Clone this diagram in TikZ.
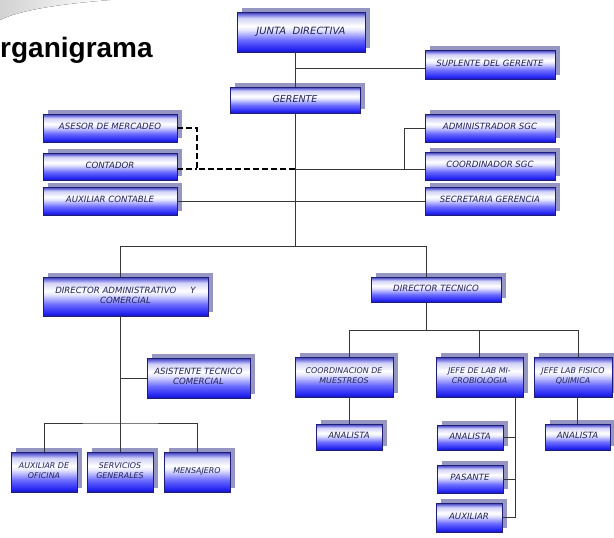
\documentclass[tikz,border=0pt]{standalone}
\usepackage{fontspec}
\setmainfont{DejaVu Sans}
\newfontfamily\titlefont{Liberation Sans}
\usetikzlibrary{shadows}
\definecolor{txt}{RGB}{35,35,85}
\definecolor{edgec}{RGB}{30,30,120}
\definecolor{shd}{RGB}{150,150,195}
\definecolor{lnc}{RGB}{55,55,55}
\pgfdeclareverticalshading{boxsh}{100bp}{rgb(0bp)=(0.10,0.10,0.65); rgb(25bp)=(0.10,0.10,0.65); rgb(28bp)=(0.13,0.13,0.95); rgb(40bp)=(0.42,0.42,1); rgb(52.5bp)=(0.9,0.9,1); rgb(57.5bp)=(1,1,1); rgb(67.5bp)=(0.82,0.82,0.97); rgb(72bp)=(0.45,0.45,0.88); rgb(75bp)=(0.2,0.2,0.65); rgb(100bp)=(0.2,0.2,0.65)}
\newcommand\bx[7][]{\node[box,minimum width={#4pt-#3pt},minimum height={#6pt-#5pt},#1] (#2) at ({(#3+#4)/2},{(#5+#6)/2}) {#7};}
\begin{document}
\begin{tikzpicture}[x=1pt,y=-1pt,
  box/.style={draw=edgec, line width=0.5pt, shading=boxsh,
    drop shadow={shadow xshift=5pt, shadow yshift=4pt, fill=shd, opacity=1},
    font=\fontsize{8.6}{10}\selectfont\itshape, text=txt, align=center,
    inner sep=1pt, text depth=3pt},
  small/.style={font=\fontsize{7.9}{9.6}\selectfont\itshape},
  conn/.style={draw=lnc, line width=0.8pt},
  dsh/.style={draw=black, line width=1.6pt, dash pattern=on 6pt off 3pt}]
\useasboundingbox (0,0) rectangle (614,538);
\fill[left color=gray!35, right color=white] (0,0) -- (110,0) .. controls (60,4) and (20,10) .. (0,20) -- cycle;
\node[anchor=base west, inner sep=0pt, font=\titlefont\bfseries\fontsize{28}{30}\selectfont] (title) at (0,57) {rganigrama};
% boxes
\bx[font=\fontsize{10}{12}\selectfont\itshape]{junta}{237}{365}{12}{52}{JUNTA\ \ DIRECTIVA}
\bx[font=\fontsize{9.5}{11}\selectfont\itshape]{ger}{230}{360}{87}{113}{GERENTE}
\bx{supl}{425}{555}{50}{79}{SUPLENTE DEL GERENTE}
\bx{ases}{43}{177}{114}{142}{ASESOR DE MERCADEO}
\bx{cont}{43}{177}{153}{180}{CONTADOR}
\bx{aux}{43}{177}{187}{215}{AUXILIAR CONTABLE}
\bx{adm}{425}{555}{114}{142}{ADMINISTRADOR SGC}
\bx{coord}{425}{555}{152}{180}{COORDINADOR SGC}
\bx{secr}{425}{555}{187}{215}{SECRETARIA GERENCIA}
\bx{dadm}{43}{208}{277}{316}{DIRECTOR ADMINISTRATIVO\quad\ \ Y\\COMERCIAL}
\bx{dt}{371}{501}{277}{302}{DIRECTOR TECNICO}
\bx{asis}{147}{250}{358}{398}{ASISTENTE TECNICO\\COMERCIAL}
\bx[small]{cm}{295}{393}{357}{397}{COORDINACION DE\\MUESTREOS}
\bx[small]{jm}{436}{523}{357}{397}{JEFE DE LAB MI-\\CROBIOLOGIA}
\bx[small]{fq}{534}{612}{357}{397}{JEFE LAB FISICO\\QUIMICA}
\bx{an1}{316}{382}{424}{450}{ANALISTA}
\bx{an2}{437}{503}{425}{450}{ANALISTA}
\bx{an3}{545}{610}{424}{450}{ANALISTA}
\bx{pas}{437}{503}{465}{493}{PASANTE}
\bx{aux2}{436}{502}{503}{532}{AUXILIAR}
\bx[small]{aof}{11}{77}{452}{492}{AUXILIAR DE\\OFICINA}
\bx[small]{serv}{87}{153}{452}{492}{SERVICIOS\\GENERALES}
\bx[small]{mens}{164}{230}{452}{492}{MENSAJERO}
% connectors
\coordinate (tr) at (295,0);
\coordinate (j1) at (295,68);
\coordinate (d1) at (197,169);
\coordinate (a1) at (404,169);
\coordinate (bl) at (120,246);
\coordinate (br) at (426,246);
\coordinate (b2) at (120,423);
\coordinate (c1) at (349,330);
\coordinate (c3) at (578,330);
\coordinate (mv) at (515,0);
\draw[conn] (junta.south -| tr) -- (ger.north -| tr);
\draw[conn] (j1) -- (j1 -| supl.west);
\draw[conn] (ger.south) -- (ger.south |- bl);
\draw[conn] (d1 -| tr) -- (d1 -| coord.west);
\draw[conn] (a1) |- (adm.west);
\draw[conn] (aux.east) -- (secr.west);
\draw[dsh] (ases.east) -| (d1) -- (d1 -| tr);
\draw[dsh] (cont.east |- d1) -- (d1);
\draw[conn] (dadm.north -| bl) |- (br) -- (br |- dt.north);
\draw[conn] (dadm.south -| bl) -- (serv.north);
\draw[conn] (asis.west -| bl) -- (asis.west);
\draw[conn] (aof.north) |- (b2) -| (mens.north);
\draw[conn] (dt.south -| br) -- (br |- c1);
\draw[conn] (c1 |- cm.north) -- (c1) -- (c3) -- (c3 |- fq.north);
\draw[conn] (jm.north) -- (jm.north |- c1);
\draw[conn] (an1.north |- cm.south) -- (an1.north);
\draw[conn] (an3.north |- fq.south) -- (an3.north);
\draw[conn] (jm.south -| mv) |- (aux2.east);
\draw[conn] (an2.east) -- (an2.east -| mv);
\draw[conn] (pas.east) -- (pas.east -| mv);
\end{tikzpicture}
\end{document}
